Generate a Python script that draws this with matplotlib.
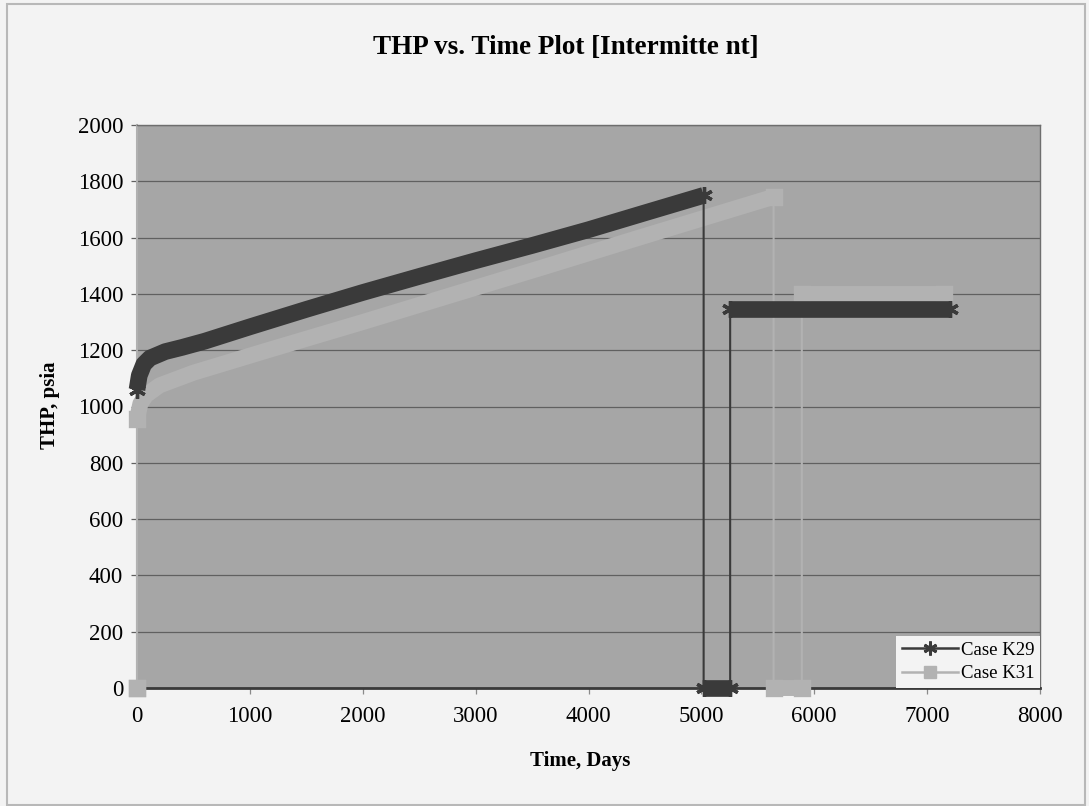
import matplotlib
matplotlib.use("Agg")
import matplotlib.pyplot as plt
from matplotlib.lines import Line2D
from matplotlib.patches import Rectangle

# ---- data ----
k29_t = [0, 20, 60, 115, 250, 400, 600, 1000, 1500, 2000, 2500, 3000, 3500, 4000, 4500, 5020, 5020, 5255, 5255, 7200]
k29_v = [1060, 1110, 1150, 1172, 1195, 1210, 1232, 1283, 1345, 1405, 1462, 1518, 1572, 1628, 1688, 1750, 0, 0, 1345, 1345]

k31_t = [0, 0, 30, 80, 200, 500, 1160, 2000, 2820, 3600, 4450, 5640, 5640, 5890, 5890, 7150]
k31_v = [0, 955, 1010, 1040, 1075, 1120, 1200, 1300, 1400, 1495, 1600, 1745, 0, 0, 1400, 1400]

series_names = ["Case K29", "Case K31"]
x_ticks = [0, 1000, 2000, 3000, 4000, 5000, 6000, 7000, 8000]
y_ticks = [0, 200, 400, 600, 800, 1000, 1200, 1400, 1600, 1800, 2000]

title = "THP vs. Time Plot [Intermitte nt]"
xlabel = "Time, Days"
ylabel = "THP, psia"

# ---- style ----
plt.rcParams['font.family'] = ['Liberation Serif', 'DejaVu Serif']
FIG_BG = "#f3f3f3"
AX_BG = "#a6a6a6"
K29_C = "#3a3a3a"
K31_C = "#b2b2b2"
GRID_C = "#606060"

fig = plt.figure(figsize=(10.89, 8.06), dpi=100, facecolor=FIG_BG)
ax = fig.add_axes([137/1089, 1 - 688/806, (1040-137)/1089, (688-125)/806])
ax.set_facecolor(AX_BG)

# figure border
fig.patches.append(Rectangle((7/1089, 1 - 805/806), (1085-7)/1089, (805-4)/806,
                             transform=fig.transFigure, fill=False,
                             edgecolor="#b8b8b8", lw=1.5))


def segments(t, v):
    segs, cur = [], [0]
    for i in range(1, len(t)):
        if t[i] == t[i-1]:
            segs.append(cur)
            cur = [i]
        else:
            cur.append(i)
    segs.append(cur)
    return segs


def draw_series(t, v, color, marker, ms, band_lw, thin_lw, z):
    # thin connecting line (including the vertical jumps)
    ax.plot(t, v, color=color, lw=thin_lw, zorder=z, clip_on=False)
    # dense-marker band look
    for s in segments(t, v):
        ts = [t[i] for i in s]
        vs = [v[i] for i in s]
        if len(s) > 1:
            ax.plot(ts, vs, color=color, lw=band_lw, solid_capstyle='butt',
                    solid_joinstyle='round', zorder=z, clip_on=False)
        ends_t = [ts[0], ts[-1]]
        ends_v = [vs[0], vs[-1]]
        ax.plot(ends_t, ends_v, ls='none', marker=marker, ms=ms, color=color,
                mec=color, mew=2.4, zorder=z + 0.1, clip_on=False)


draw_series(k31_t, k31_v, K31_C, 's', 10, 11.5, 1.5, 3)
draw_series(k29_t, k29_v, K29_C, (6, 2, 0), 12, 12, 1.5, 4)

ax.set_xlim(0, 8000)
ax.set_ylim(0, 2000)
ax.set_xticks(x_ticks)
ax.set_yticks(y_ticks)
ax.yaxis.grid(True, color=GRID_C, lw=0.9)
ax.xaxis.grid(False)
ax.set_axisbelow(True)

ax.tick_params(axis='y', direction='out', length=4, width=0.9, color=GRID_C,
               labelsize=16.5, pad=6)
ax.tick_params(axis='x', direction='out', length=4, width=0.9, color="#8a8a8a",
               labelsize=16.5, pad=9)

for sp in ['top', 'right']:
    ax.spines[sp].set_color("#6e6e6e")
    ax.spines[sp].set_linewidth(1.0)
ax.spines['left'].set_color("#b0b0b0")
ax.spines['left'].set_linewidth(1.5)
ax.spines['bottom'].set_color("#3a3a3a")
ax.spines['bottom'].set_linewidth(2.0)

fig.text(566/1089, 1 - 48/806, title, ha='center', va='center',
         fontsize=19.5, fontweight='bold')
fig.text(580/1089, 1 - 761/806, xlabel, ha='center', va='center',
         fontsize=15, fontweight='bold')
fig.text(50/1089, 1 - 405/806, ylabel, ha='center', va='center',
         rotation=90, fontsize=15, fontweight='bold')

handles = [
    Line2D([0], [0], color=K29_C, lw=1.8, marker=(6, 2, 0), ms=10, mew=2, mec=K29_C),
    Line2D([0], [0], color=K31_C, lw=1.8, marker='s', ms=8, mec=K31_C),
]
leg = ax.legend(handles, series_names, loc='lower right', frameon=True,
                fancybox=False, facecolor=FIG_BG, edgecolor=FIG_BG,
                framealpha=1, fontsize=13.5, handlelength=3.0, handletextpad=0.15,
                borderpad=0.3, labelspacing=0.35, borderaxespad=0.0)
leg.get_frame().set_linewidth(0)
leg.set_zorder(10)

fig.savefig("out.png", dpi=100, facecolor=FIG_BG)
